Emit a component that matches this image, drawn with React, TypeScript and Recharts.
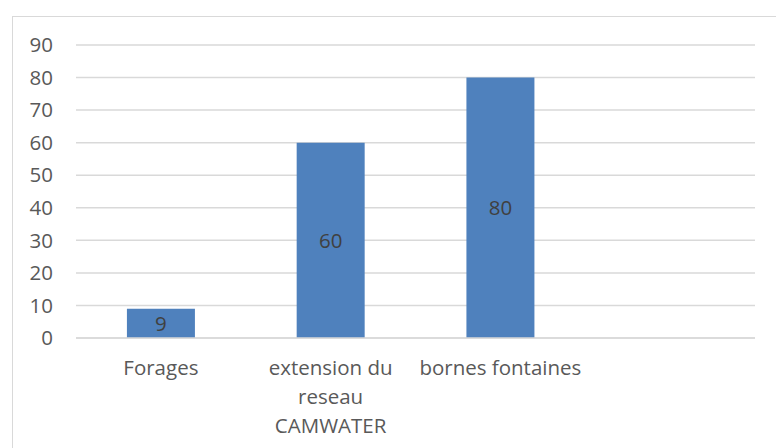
import React from 'react';
import { BarChart, Bar, XAxis, YAxis, CartesianGrid, LabelList } from 'recharts';

const categories = ['Forages', 'extension du reseau CAMWATER', 'bornes fontaines', ''];
const values: (number | null)[] = [9, 60, 80, null];
// category labels as wrapped in the reference
const tickLines = [['Forages'], ['extension du', 'reseau', 'CAMWATER'], ['bornes fontaines'], ['']];
const yTicks = [0, 10, 20, 30, 40, 50, 60, 70, 80, 90];

const FONT = '"Open Sans", sans-serif';
const FONT_SIZE = 20.5;

const chartData = categories.map((name, i) => ({ name, value: values[i] }));

const CategoryTick = (props: any) => {
  const { x, y, index } = props;
  const lines = tickLines[index] || [];
  return (
    <text x={x} y={y} textAnchor="middle" fill="#595959" fontSize={FONT_SIZE} fontFamily={FONT}>
      {lines.map((line, i) => (
        <tspan key={i} x={x} dy={i === 0 ? '0.71em' : 29}>
          {line}
        </tspan>
      ))}
    </text>
  );
};

export default function App() {
  return (
    <div style={{ position: 'absolute', left: 0, top: 0, width: 776, height: 448, background: '#fff', overflow: 'hidden' }}>
      <div
        style={{
          position: 'absolute',
          left: 12,
          top: 16,
          width: 800,
          height: 480,
          border: '1px solid #d9d9d9',
        }}
      />
      <div style={{ position: 'absolute', left: 0, top: 0 }}>
        <BarChart width={776} height={448} data={chartData} margin={{ top: 45, right: 21, left: 0, bottom: 0 }} barCategoryGap="30%">
          <CartesianGrid horizontal vertical={false} stroke="#d9d9d9" strokeWidth={1.5} />
          <XAxis
            dataKey="name"
            height={110}
            axisLine={{ stroke: '#d9d9d9', strokeWidth: 1.5 }}
            tickLine={false}
            tickSize={0}
            tick={<CategoryTick />}
            tickMargin={22}
            interval={0}
          />
          <YAxis
            width={76}
            domain={[0, 90]}
            ticks={yTicks}
            interval={0}
            axisLine={false}
            tickLine={false}
            tickSize={0}
            tickMargin={23}
            tick={{ fill: '#595959', fontSize: FONT_SIZE, fontFamily: FONT }}
          />
          <Bar dataKey="value" fill="#4f81bd" isAnimationActive={false}>
            <LabelList dataKey="value" position="center" fill="#404040" fontSize={FONT_SIZE} fontFamily={FONT} />
          </Bar>
        </BarChart>
      </div>
    </div>
  );
}
